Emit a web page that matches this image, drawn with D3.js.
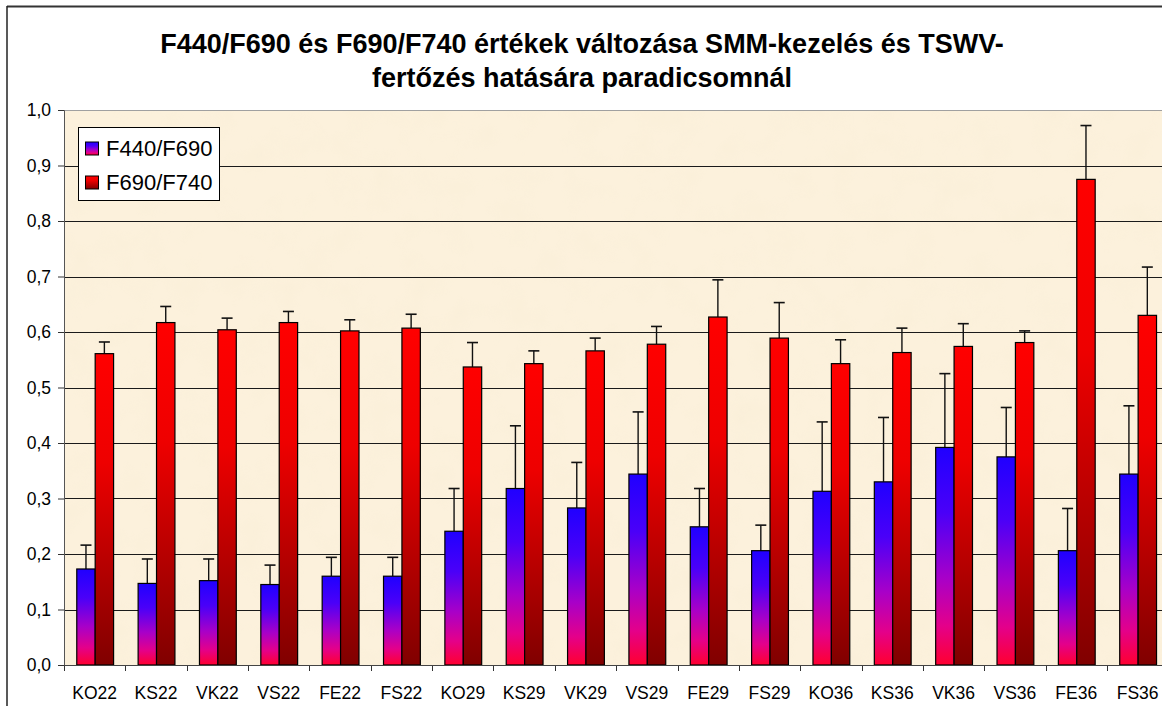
<!DOCTYPE html>
<html>
<head>
<meta charset="utf-8">
<script src="https://cdn.jsdelivr.net/npm/d3@7"></script>
<style>
  html, body { margin: 0; padding: 0; background: #fff; }
  svg { display: block; }
  text { font-family: Arial, "Liberation Sans", sans-serif; }
</style>
</head>
<body>
<svg id="chart" width="1162" height="706"></svg>
<script>
const categories = ["KO22","KS22","VK22","VS22","FE22","FS22","KO29","KS29","VK29","VS29","FE29","FS29","KO36","KS36","VK36","VS36","FE36","FS36"];
const seriesNames = ["F440/F690", "F690/F740"];
const f440 = [0.173,0.147,0.152,0.145,0.160,0.160,0.241,0.318,0.283,0.344,0.249,0.206,0.313,0.330,0.392,0.375,0.206,0.344];
const f440Err = [0.043,0.044,0.039,0.035,0.034,0.034,0.077,0.113,0.082,0.112,0.069,0.046,0.125,0.116,0.133,0.089,0.076,0.123];
const f690 = [0.561,0.617,0.604,0.617,0.602,0.607,0.537,0.543,0.566,0.578,0.627,0.589,0.543,0.563,0.574,0.581,0.875,0.630];
const f690Err = [0.021,0.029,0.021,0.020,0.020,0.025,0.044,0.023,0.023,0.032,0.067,0.064,0.043,0.044,0.041,0.021,0.097,0.087];
const yTicks = [0,0.1,0.2,0.3,0.4,0.5,0.6,0.7,0.8,0.9,1.0];
const titleLines = ["F440/F690 és F690/F740 értékek változása SMM-kezelés és TSWV-", "fertőzés hatására paradicsomnál"];

const svg = d3.select("#chart");
const defs = svg.append("defs");

// gradients
const gBlue = defs.append("linearGradient").attr("id","gBlue").attr("x1",0).attr("y1",0).attr("x2",0).attr("y2",1);
[[0,"#2000ff"],[0.3,"#4a00f8"],[0.6,"#a800c8"],[0.82,"#e4008a"],[1,"#ff0030"]].forEach(s=>gBlue.append("stop").attr("offset",s[0]).attr("stop-color",s[1]));
const gRed = defs.append("linearGradient").attr("id","gRed").attr("x1",0).attr("y1",0).attr("x2",0).attr("y2",1);
[[0,"#ff0000"],[0.35,"#ee0000"],[1,"#800000"]].forEach(s=>gRed.append("stop").attr("offset",s[0]).attr("stop-color",s[1]));

// parchment texture
const filt = defs.append("filter").attr("id","parch").attr("x",0).attr("y",0).attr("width","100%").attr("height","100%");
filt.append("feTurbulence").attr("type","fractalNoise").attr("baseFrequency","0.03").attr("numOctaves",3).attr("seed",7).attr("result","n");
filt.append("feColorMatrix").attr("in","n").attr("type","matrix")
  .attr("values","0 0 0 0 0.93  0 0 0 0 0.84  0 0 0 0 0.66  0 0 0 -2.2 1.25").attr("result","c");
filt.append("feComposite").attr("in","c").attr("in2","SourceGraphic").attr("operator","in");

const plotLeft = 64, plotTop = 110, plotBottom = 665;
const catW = 61.35;
const plotRight = plotLeft + catW * categories.length;

const x = d3.scaleBand().domain(categories).range([plotLeft, plotRight]).padding(0);
const barW = x.bandwidth() * 0.3;
const x1 = d3.scaleBand().domain(seriesNames).range([0, barW*2]).padding(0);
const groupOff = (x.bandwidth() - barW*2)/2 + 0.5;
const y = d3.scaleLinear().domain([0,1]).range([plotBottom, plotTop]);

// outer frame
svg.append("line").attr("x1",7).attr("x2",1162).attr("y1",6.5).attr("y2",6.5).attr("stroke","#333").attr("stroke-width",2);
svg.append("line").attr("x1",7).attr("x2",7).attr("y1",6).attr("y2",706).attr("stroke","#222").attr("stroke-width",1.5);

// plot background
svg.append("rect").attr("x",plotLeft).attr("y",plotTop).attr("width",plotRight-plotLeft).attr("height",plotBottom-plotTop).attr("fill","#fcf1dc");
svg.append("rect").attr("x",plotLeft).attr("y",plotTop).attr("width",plotRight-plotLeft).attr("height",plotBottom-plotTop).attr("fill","#fff").attr("filter","url(#parch)").attr("opacity",0.3);

// gridlines
svg.append("g").selectAll("line").data(yTicks.filter(t=>t>0 && t<1)).join("line")
  .attr("x1",plotLeft).attr("x2",plotRight).attr("y1",d=>Math.round(y(d))+0.5).attr("y2",d=>Math.round(y(d))+0.5)
  .attr("stroke","#1a1a1a").attr("stroke-width",1);
svg.append("line").attr("x1",plotLeft).attr("x2",plotRight).attr("y1",plotTop+0.5).attr("y2",plotTop+0.5).attr("stroke","#a0a0a0").attr("stroke-width",1.2);

// y axis
const yAxis = d3.axisLeft(y).tickValues(yTicks).tickSize(6).tickPadding(7).tickFormat(d=>d3.format(".1f")(d).replace(".",","));
const gy = svg.append("g").attr("transform",`translate(${plotLeft},0)`).call(yAxis);
gy.select(".domain").attr("stroke","#555");
gy.selectAll(".tick line").attr("stroke","#333");
gy.selectAll("text").attr("font-size",17.5).attr("fill","#000").style("font-family","Arial, 'Liberation Sans', sans-serif");

// x axis
const xAxis = d3.axisBottom(x).tickSize(0).tickPadding(22);
const gx = svg.append("g").attr("transform",`translate(0,${plotBottom})`).call(xAxis);
gx.select(".domain").attr("stroke","#444");
gx.selectAll("text").attr("font-size",17.5).attr("fill","#000").style("font-family","Arial, 'Liberation Sans', sans-serif");
gx.append("g").selectAll("line").data(categories).join("line")
  .attr("x1",d=>Math.round(x(d))+0.5).attr("x2",d=>Math.round(x(d))+0.5).attr("y1",0).attr("y2",6)
  .attr("stroke","#333");

// bars
const series = [
  {name: seriesNames[0], values: f440, err: f440Err, fill: "url(#gBlue)"},
  {name: seriesNames[1], values: f690, err: f690Err, fill: "url(#gRed)"}
];
series.forEach(s => {
  const g = svg.append("g");
  const data = categories.map((c,i)=>({c, v:s.values[i], e:s.err[i]}));
  const bx = d => x(d.c) + groupOff + x1(s.name);
  g.selectAll("line.err").data(data).join("line").attr("class","err")
    .attr("x1",d=>bx(d)+barW/2).attr("x2",d=>bx(d)+barW/2)
    .attr("y1",d=>y(d.v)).attr("y2",d=>y(d.v+d.e))
    .attr("stroke","#111").attr("stroke-width",1.4);
  g.selectAll("line.cap").data(data).join("line").attr("class","cap")
    .attr("x1",d=>bx(d)+barW/2-5.5).attr("x2",d=>bx(d)+barW/2+5.5)
    .attr("y1",d=>y(d.v+d.e)).attr("y2",d=>y(d.v+d.e))
    .attr("stroke","#111").attr("stroke-width",1.6);
  g.selectAll("rect").data(data).join("rect")
    .attr("x",d=>bx(d)).attr("width",barW)
    .attr("y",d=>y(d.v)).attr("height",d=>y(0)-y(d.v))
    .attr("fill",s.fill).attr("stroke","#000").attr("stroke-width",1.2);
});

svg.append("line").attr("x1",plotLeft).attr("x2",plotRight).attr("y1",plotBottom+0.5).attr("y2",plotBottom+0.5).attr("stroke","#444");

// legend
const lg = svg.append("g");
lg.append("rect").attr("x",78.5).attr("y",127.5).attr("width",141).attr("height",73).attr("fill","#fff").attr("stroke","#000").attr("stroke-width",1);
series.forEach((s,i)=>{
  const cy = 148 + i*34;
  lg.append("rect").attr("x",85.5).attr("y",cy-6).attr("width",13).attr("height",13).attr("fill",s.fill).attr("stroke","#000").attr("stroke-width",1);
  lg.append("text").attr("x",106).attr("y",cy+7.5).attr("font-size",22).attr("fill","#000").text(s.name);
});

// title
const tt = svg.append("g");
titleLines.forEach((t,i)=>{
  tt.append("text").attr("x",582).attr("y",53 + i*34).attr("text-anchor","middle")
    .attr("font-size",27).attr("font-weight","bold").attr("fill","#000").text(t);
});
</script>
</body>
</html>
